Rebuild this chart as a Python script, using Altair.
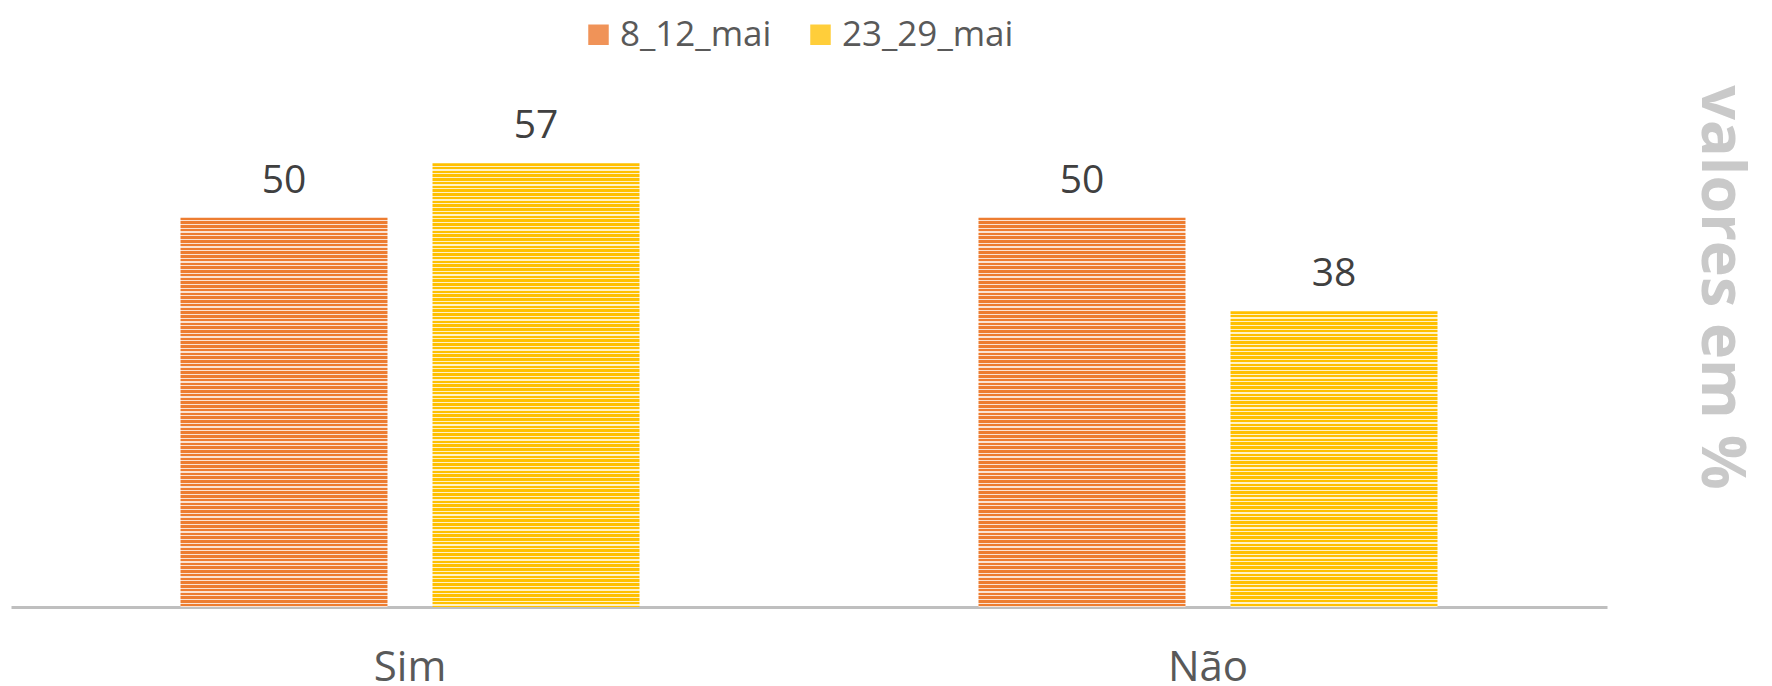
import altair as alt
import pandas as pd

categories = ["Sim", "Não"]
series = ["8_12_mai", "23_29_mai"]
values_8_12 = [50, 50]
values_23_29 = [57, 38]

rows = []
for i, c in enumerate(categories):
    rows.append({"cat": c, "series": series[0], "value": values_8_12[i]})
    rows.append({"cat": c, "series": series[1], "value": values_23_29[i]})
df = pd.DataFrame(rows)

W, H = 1596, 545
YMAX = 70
ppu = H / YMAX
stripe_colors = {series[0]: ("#ED7D31", "#FBE3D3"), series[1]: ("#FFC000", "#FFF1C6")}
PERIOD = 3.75
DARK = 0.65
FONT = "Open Sans"


def stripes(value, dark, light):
    hpx = value * ppu
    stops = []
    i = 0
    while i * PERIOD < hpx:
        o0 = i * PERIOD / hpx
        o1 = min((i * PERIOD + PERIOD * DARK) / hpx, 1.0)
        o2 = min((i + 1) * PERIOD / hpx, 1.0)
        stops.append(alt.GradientStop(offset=o0, color=dark))
        stops.append(alt.GradientStop(offset=o1, color=dark))
        stops.append(alt.GradientStop(offset=o1, color=light))
        stops.append(alt.GradientStop(offset=o2, color=light))
        i += 1
    return alt.Gradient(gradient="linear", stops=stops, x1=0, x2=0, y1=0, y2=1)


x_enc = alt.X(
    "cat:N",
    sort=categories,
    scale=alt.Scale(domain=categories, paddingInner=0.4248, paddingOuter=0.2124),
    axis=alt.Axis(
        title=None,
        labelFont=FONT,
        labelFontSize=42,
        labelColor="#595959",
        labelAngle=0,
        labelBaseline="alphabetic",
        labelPadding=73,
        ticks=False,
        tickSize=0,
        domainColor="#BFBFBF",
        domainWidth=3,
        grid=False,
    ),
)
xo_enc = alt.XOffset(
    "series:N",
    sort=series,
    scale=alt.Scale(domain=series, paddingInner=0.1786, paddingOuter=0),
)
y_enc = alt.Y(
    "value:Q",
    scale=alt.Scale(domain=[0, YMAX], nice=False, zero=True),
    axis=alt.Axis(
        orient="right",
        labels=False,
        ticks=False,
        domain=False,
        grid=False,
        title="valores em %",
        titleFont=FONT,
        titleFontSize=61,
        titleFontWeight="bold",
        titleColor="#C9C9C9",
        titleAngle=90,
        titleAlign="center",
        titleBaseline="middle",
        titleX=112,
        titleY=225,
    ),
)

layers = []
for i, c in enumerate(categories):
    for s, vals in zip(series, [values_8_12, values_23_29]):
        dark, light = stripe_colors[s]
        layers.append(
            alt.Chart(df)
            .transform_filter((alt.datum.cat == c) & (alt.datum.series == s))
            .mark_bar(fill=stripes(vals[i], dark, light), strokeWidth=0)
            .encode(x=x_enc, xOffset=xo_enc, y=y_enc)
        )

labels = (
    alt.Chart(df)
    .mark_text(font=FONT, fontSize=39, color="#404040", baseline="alphabetic", dy=-25)
    .encode(x=x_enc, xOffset=xo_enc, y=y_enc, text=alt.Text("value:Q"))
)

legend_layer = (
    alt.Chart(df)
    .mark_square(opacity=0)
    .encode(
        x=x_enc,
        xOffset=xo_enc,
        y=y_enc,
        color=alt.Color(
            "series:N",
            sort=series,
            scale=alt.Scale(domain=series, range=["#F09358", "#FFCE3A"]),
            legend=alt.Legend(
                title=None,
                orient="none",
                direction="horizontal",
                legendX=570,
                legendY=-45,
                symbolType="square",
                symbolSize=420,
                symbolOpacity=1,
                symbolStrokeWidth=0,
                labelFont=FONT,
                labelFontSize=35,
                labelColor="#595959",
                labelOffset=4,
                labelLimit=400,
                columnPadding=31,
                padding=0,
            ),
        ),
    )
)

chart = (
    alt.layer(*layers, labels, legend_layer)
    .properties(
        width=W,
        height=H,
        autosize=alt.AutoSizeParams(type="none"),
        padding={"left": 11, "top": 62, "right": 165, "bottom": 79},
        background="white",
    )
    .configure_view(stroke=None)
)

chart.save("out.html", embed_options={"renderer": "svg", "actions": False})
